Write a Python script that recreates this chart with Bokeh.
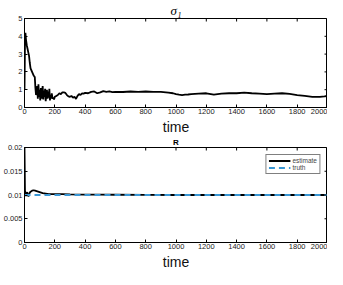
import math
from bokeh.plotting import figure
from bokeh.models import FixedTicker, Range1d, Legend, LegendItem, Title
from bokeh.layouts import column
from bokeh.embed import file_html
from bokeh.resources import INLINE

# ---- data: sigma_1 estimate ----
t_sigma = [0, 3, 6, 10, 15, 20, 25, 30, 35, 40, 45, 50, 55, 60, 65, 68,
           72, 76, 80, 84, 88, 92, 96, 100, 104, 108, 112, 116, 120, 124, 128,
           132, 136, 140, 144, 148, 152, 156, 160, 164, 168, 172, 176, 180,
           185, 190, 195, 200, 210, 220, 230, 240, 250, 260, 270, 280, 290,
           300, 310, 320, 330, 340, 350, 360, 370, 380, 390, 400, 420, 440,
           460, 480, 500, 520, 540, 560, 580, 600, 650, 700, 750, 800, 850,
           900, 950, 980, 1000, 1020, 1040, 1060, 1080, 1100, 1150, 1200,
           1250, 1300, 1350, 1400, 1450, 1500, 1550, 1600, 1650, 1700, 1750,
           1800, 1850, 1900, 1950, 1980, 2000]
sigma_est = [1.0, 3.6, 4.2, 3.8, 3.5, 3.3, 3.1, 2.9, 2.5, 2.2, 2.1, 2.0, 1.9,
             1.8, 1.75, 1.7,
             1.1, 0.7, 0.9, 1.2, 0.5, 1.3, 0.6, 1.0, 0.4, 1.1, 0.5, 0.9, 1.2,
             0.45, 0.95, 0.6, 1.05, 0.35, 0.8, 1.0, 0.5, 0.9, 0.55, 1.05, 0.4,
             0.7, 0.5, 0.8, 0.5, 0.55, 0.45, 0.6, 0.65, 0.7, 0.8, 0.75, 0.85,
             0.85, 0.82, 0.7, 0.62, 0.6, 0.65, 0.55, 0.6, 0.48, 0.65, 0.75,
             0.7, 0.8, 0.78, 0.82, 0.8, 0.88, 0.9, 0.8, 0.85, 0.92, 0.88, 0.9,
             0.86, 0.88, 0.87, 0.9, 0.88, 0.9, 0.88, 0.88, 0.84, 0.8, 0.75,
             0.72, 0.7, 0.72, 0.73, 0.75, 0.78, 0.8, 0.72, 0.78, 0.8, 0.8,
             0.83, 0.8, 0.78, 0.75, 0.78, 0.8, 0.76, 0.7, 0.65, 0.6, 0.6,
             0.62, 0.65]

# ---- data: R estimate and truth ----
t_r = [0, 3, 6, 10, 14, 18, 22, 26, 30, 35, 40, 50, 60, 70, 80, 100, 120,
       140, 160, 200, 250, 300, 400, 500, 600, 800, 1000, 1200, 1500, 1800,
       2000]
r_est = [0.0200, 0.0110, 0.0103, 0.0098, 0.0104, 0.0106, 0.0100, 0.0097,
         0.0101, 0.0105, 0.0107, 0.0109, 0.0110, 0.0109, 0.0108, 0.0106,
         0.0104, 0.0103, 0.0102, 0.01020, 0.01018, 0.01015, 0.01010, 0.01007,
         0.01005, 0.01002, 0.01000, 0.01000, 0.01000, 0.01000, 0.01000]
t_truth = [0, 2000]
r_truth = [0.01, 0.01]

x_ticks = [0, 200, 400, 600, 800, 1000, 1200, 1400, 1600, 1800, 2000]
y1_ticks = [0, 1, 2, 3, 4, 5]
y2_ticks = [0, 0.005, 0.01, 0.015, 0.02]
y2_labels = {0: "0", 0.005: "0.005", 0.01: "0.01", 0.015: "0.015", 0.02: "0.02"}
x_label = "time"

FONT = "Liberation Sans"
TICK_SIZE = "7.5px"


def style(p, yticks, xmax, ymax):
    p.xgrid.visible = False
    p.ygrid.visible = False
    p.outline_line_color = "black"
    p.outline_line_width = 1
    for ax in p.xaxis + p.yaxis:
        ax.major_tick_in = 3
        ax.major_tick_out = 0
        ax.minor_tick_line_color = None
        ax.axis_line_color = "black"
        ax.major_tick_line_color = "black"
        ax.major_label_text_font = FONT
        ax.major_label_text_font_size = TICK_SIZE
        ax.major_label_text_color = "#222222"
        ax.major_label_standoff = 2
    p.xaxis.major_label_standoff = 1
    p.xaxis.ticker = FixedTicker(ticks=x_ticks)
    p.yaxis.ticker = FixedTicker(ticks=yticks)
    xlabel = Title(text=x_label, align="center", text_font=FONT,
                   text_font_style="normal", text_font_size="14px",
                   text_color="#111111", standoff=0, offset=0)
    p.add_layout(xlabel, "below")
    # mirrored inner ticks on top and right edges of the box (clipped to frame)
    p.scatter(x_ticks, [ymax] * len(x_ticks), marker="dash", size=6,
              angle=math.pi / 2, line_color="black", line_width=1)
    p.scatter([xmax] * len(yticks), yticks, marker="dash", size=6,
              line_color="black", line_width=1)


p1 = figure(width=327, height=134, output_backend="svg", toolbar_location=None,
            x_range=Range1d(0, 2000), y_range=Range1d(0, 5),
            min_border_left=22, min_border_right=0, min_border_top=2, min_border_bottom=0)
p1.title.text = "σ₁"
p1.title.text_font = "Liberation Serif"
p1.title.text_font_style = "italic"
p1.title.text_font_size = "13px"
p1.title.text_color = "black"
p1.title.align = "center"
p1.title.standoff = 1
p1.line(t_sigma, sigma_est, line_color="black", line_width=1.8)
style(p1, y1_ticks, 2000, 5)

p2 = figure(width=327, height=135, output_backend="svg", toolbar_location=None,
            x_range=Range1d(0, 2000), y_range=Range1d(0, 0.02),
            min_border_left=22, min_border_right=0, min_border_top=4, min_border_bottom=0)
p2.title.text = "R"
p2.title.text_font = FONT
p2.title.text_font_style = "bold"
p2.title.text_font_size = "8px"
p2.title.text_color = "black"
p2.title.align = "center"
p2.title.standoff = 2
r_line = p2.line(t_r, r_est, line_color="black", line_width=1.8)
r_truth_line = p2.line(t_truth, r_truth, line_color="#3a97d4", line_width=1.8,
                       line_dash="6 4")
style(p2, y2_ticks, 2000, 0.02)
p2.yaxis[0].major_label_overrides = y2_labels

legend = Legend(items=[LegendItem(label="estimate", renderers=[r_line]),
                       LegendItem(label="truth", renderers=[r_truth_line])],
                location="top_right", label_text_font=FONT, label_text_font_size="6.5px",
                glyph_width=22, glyph_height=7, label_height=7, spacing=0, padding=2,
                margin=7, border_line_color="black", border_line_width=1,
                label_standoff=2)
p2.add_layout(legend, "center")

layout = column(p1, p2)
open("out.html", "w").write(file_html(layout, INLINE))
